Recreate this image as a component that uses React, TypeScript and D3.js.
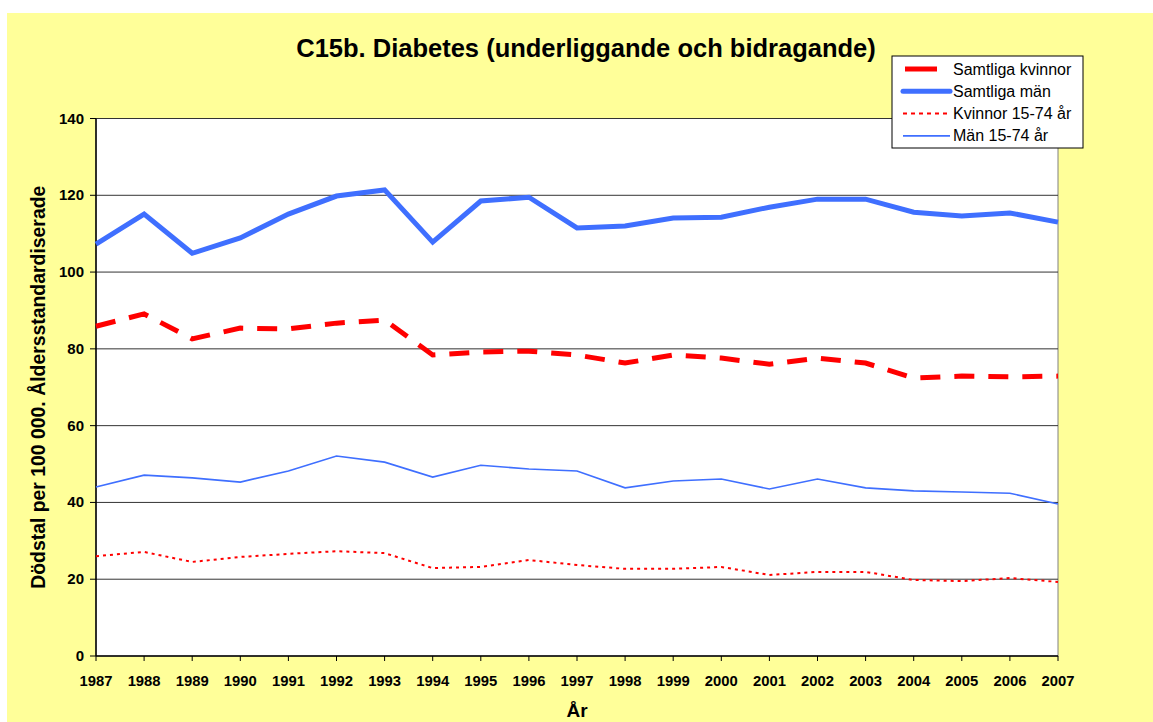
import React from "react";
import * as d3 from "d3";

const years = [1987,1988,1989,1990,1991,1992,1993,1994,1995,1996,1997,1998,1999,2000,2001,2002,2003,2004,2005,2006,2007];
const samtligaKvinnor = [85.9,89.1,82.6,85.4,85.2,86.7,87.5,78.4,79.2,79.4,78.4,76.3,78.4,77.6,76.0,77.6,76.3,72.4,72.9,72.7,72.9];
const samtligaMan = [107.3,115.1,104.9,108.9,115.1,119.8,121.4,107.8,118.5,119.5,111.5,112.0,114.1,114.3,116.9,119.0,119.0,115.6,114.6,115.4,113.0];
const kvinnor1574 = [26.0,27.1,24.5,25.8,26.6,27.3,26.8,22.9,23.2,25.0,23.7,22.7,22.7,23.2,21.1,21.9,21.9,19.8,19.5,20.3,19.3];
const man1574 = [44.0,47.1,46.4,45.3,48.2,52.1,50.5,46.6,49.7,48.7,48.2,43.8,45.6,46.1,43.5,46.1,43.8,43.0,42.7,42.4,39.6];
const yTicks = [0,20,40,60,80,100,120,140];

const series = [
  { name: "Samtliga kvinnor", values: samtligaKvinnor, color: "#ff0000", width: 5, dash: "20,14" },
  { name: "Samtliga män", values: samtligaMan, color: "#3f6fff", width: 5, dash: "" },
  { name: "Kvinnor 15-74 år", values: kvinnor1574, color: "#ff0000", width: 2, dash: "3,4" },
  { name: "Män 15-74 år", values: man1574, color: "#3f6fff", width: 1.6, dash: "" },
];

export default function App() {
  const W = 1153, H = 722;
  const left = 96, right = 1058, top = 118.5, bottom = 656;
  const x = d3.scaleLinear().domain([years[0], years[years.length - 1]]).range([left, right]);
  const y = d3.scaleLinear().domain([0, 140]).range([bottom, top]);
  const font = "Arial, 'Liberation Sans', sans-serif";

  return (
    <svg width={W} height={H} style={{ position: "absolute", left: 0, top: 0 }}>
      <rect x={7} y={13} width={W - 7} height={H - 13} fill="#ffff99" />
      <rect x={left} y={top} width={right - left} height={bottom - top} fill="#ffffff" stroke="#808080" strokeWidth={1} />
      {yTicks.map((t) => (
        <g key={t}>
          {t > 0 && <line x1={left} x2={right} y1={y(t)} y2={y(t)} stroke="#333" strokeWidth={1} />}
          <line x1={left - 6} x2={left} y1={y(t)} y2={y(t)} stroke="#000" />
          <text x={left - 12} y={y(t) + 5} textAnchor="end" fontFamily={font} fontWeight="bold" fontSize={15}>{t}</text>
        </g>
      ))}
      <line x1={left} x2={left} y1={top} y2={bottom} stroke="#000" strokeWidth={1.5} />
      <line x1={left} x2={right} y1={bottom} y2={bottom} stroke="#000" strokeWidth={1.5} />
      {years.map((yr) => (
        <g key={yr}>
          <line x1={x(yr)} x2={x(yr)} y1={bottom} y2={bottom + 5} stroke="#000" />
          <text x={x(yr)} y={bottom + 30} textAnchor="middle" fontFamily={font} fontWeight="bold" fontSize={14.8}>{yr}</text>
        </g>
      ))}
      {series.map((s) => {
        const line = d3.line<number>().x((_, i) => x(years[i])).y((v) => y(v));
        return (
          <path key={s.name} d={line(s.values) || ""} fill="none" stroke={s.color} strokeWidth={s.width}
            strokeDasharray={s.dash || undefined} strokeLinejoin="miter" />
        );
      })}
      <text x={586} y={57} textAnchor="middle" fontFamily={font} fontWeight="bold" fontSize={25.5}>
        C15b. Diabetes (underliggande och bidragande)
      </text>
      <text transform={`translate(45,${(top + bottom) / 2}) rotate(-90)`} textAnchor="middle" fontFamily={font} fontWeight="bold" fontSize={19.4}>
        Dödstal per 100 000. Åldersstandardiserade
      </text>
      <text x={577} y={717} textAnchor="middle" fontFamily={font} fontWeight="bold" fontSize={19}>År</text>
      <g>
        <rect x={892} y={56} width={191} height={92} fill="#ffffff" stroke="#000" strokeWidth={1} />
        {series.map((s, i) => {
          const ly = 69 + i * 22.3;
          return (
            <g key={s.name}>
              <line x1={i === 0 ? 905 : 903} x2={i === 0 ? 937 : 950} y1={ly} y2={ly} stroke={s.color}
                strokeWidth={s.width} strokeDasharray={i === 2 ? "4,4" : undefined} strokeLinecap={i === 1 ? "round" : "butt"} />
              <text x={953} y={ly + 5.5} fontFamily={font} fontSize={16}>{s.name}</text>
            </g>
          );
        })}
      </g>
    </svg>
  );
}
